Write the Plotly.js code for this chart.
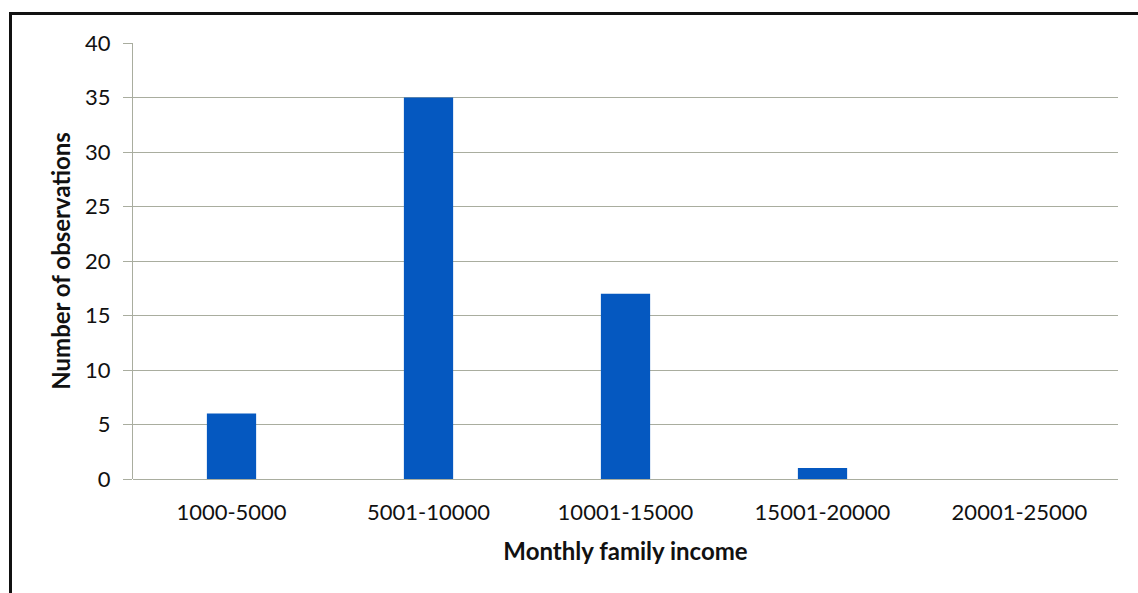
<!DOCTYPE html>
<html>
<head>
<meta charset="utf-8">
<script src="https://cdn.plot.ly/plotly-3.0.1.min.js"></script>
<style>
  html, body { margin: 0; padding: 0; background: #fff; overflow: hidden; }
  #chart { position: absolute; left: 0; top: 0; width: 1138px; height: 593px; }
  #frame { position: absolute; left: 9px; top: 12px; width: 1200px; height: 700px;
           border-left: 3px solid #111; border-top: 3px solid #111; pointer-events: none; }
</style>
</head>
<body>
<div id="chart"></div>
<div id="frame"></div>
<script>
const categories = ["1000-5000", "5001-10000", "10001-15000", "15001-20000", "20001-25000"];
const observations = [6, 35, 17, 1, 0];
const yTicks = [0, 5, 10, 15, 20, 25, 30, 35, 40];

const fontFam = "Lato, 'Open Sans', sans-serif";

Plotly.newPlot("chart", [{
  type: "bar",
  x: categories,
  y: observations,
  marker: { color: "#0558c0" },
  hoverinfo: "x+y"
}], {
  width: 1138, height: 593,
  margin: { l: 133, r: 20, t: 43, b: 114 },
  paper_bgcolor: "#ffffff",
  plot_bgcolor: "#ffffff",
  bargap: 0.75,
  showlegend: false,
  font: { family: fontFam, color: "#111", size: 22 },
  xaxis: {
    type: "category",
    showgrid: false,
    showline: false,
    zeroline: false,
    ticks: "",
    ticklabelstandoff: 18,
    tickfont: { family: fontFam, size: 22, color: "#111" },
    title: { text: "<b>Monthly family income</b>", font: { family: fontFam, size: 24, color: "#111" }, standoff: 19 }
  },
  yaxis: {
    range: [0, 40],
    tickvals: yTicks,
    showgrid: true,
    gridcolor: "#a9ad9f",
    gridwidth: 1,
    zeroline: true,
    zerolinecolor: "#a9ad9f",
    zerolinewidth: 1,
    showline: true,
    linecolor: "#a9ad9f",
    linewidth: 1,
    ticks: "outside",
    ticklen: 9,
    tickcolor: "#a9ad9f",
    ticklabelstandoff: 8,
    tickfont: { family: fontFam, size: 22, color: "#111" },
    title: { text: "<b>Number of observations</b>", font: { family: fontFam, size: 24, color: "#111" }, standoff: 7 }
  }
}, { displayModeBar: false, staticPlot: true });
</script>
</body>
</html>
